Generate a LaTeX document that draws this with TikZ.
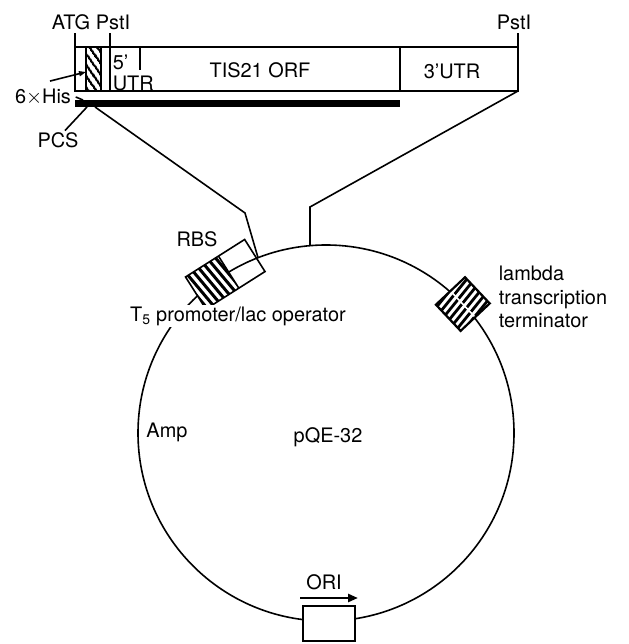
\documentclass[tikz,border=0pt]{standalone}
\usepackage{fontspec}
\setmainfont{TeX Gyre Heros}
\usetikzlibrary{arrows.meta,calc,patterns.meta}

\begin{document}
\begin{tikzpicture}[x=1bp,y=1bp,line width=1.6bp,
  every node/.style={font=\fontsize{20}{24}\selectfont,inner sep=1bp},
  hatchtop/.style={pattern={Lines[angle=-55,distance=6bp,line width=2.6bp]}},
  stripe/.style={line width=3bp},
  tip/.style={-{Triangle[length=7bp,width=5bp]}}]
\useasboundingbox (0,0) rectangle (629,644);

% insert
\draw (75,553) rectangle (518,597);
\fill[white] (86,553) rectangle (101,597);
\fill[hatchtop] (86,553) rectangle (101,597);
\draw (86,553) rectangle (101,597);
\draw (110,553) -- (110,611);
\draw (75,597) -- (75,611);
\draw (518,597) -- (518,611);
\draw (140,597) -- (140,574);
\draw (400,553) -- (400,597);
\fill (75,537) rectangle (400,544);

\node (atg) at (71,622) {ATG};
\node (pstA) at (113,622) {PstI};
\node (pstB) at (514,622) {PstI};
\node[anchor=west,align=left,font=\fontsize{20}{21}\selectfont] (utr5) at (111,571) {5'\\UTR};
\node (orf) at (260,574) {TIS21 ORF};
\node (utr3) at (452,573) {3'UTR};
\node (his) at (43,547) {6$\times$His};
\node (pcs) at (58,504) {PCS};

\coordinate (hisArr) at ([shift={(7,6)}]his.north);
\coordinate (hisTip) at (86,572);
\draw[tip] (hisArr) -- (hisTip);
\coordinate (hisEnd) at (83,544);
\draw ([xshift=3]his.east) -- (hisEnd);
\coordinate (pcsTip) at (87,537);
\draw ([xshift=7]pcs.north) -- (pcsTip);

% plasmid
\coordinate (cen) at (326,211);
\draw (cen) circle[radius=188];

\coordinate (barL) at (95,537);
\coordinate (kinkL) at (245,431);
\draw (barL) -- (kinkL) -- ($(cen)+(111.2:188)$);
\coordinate (boxR) at (518,553);
\coordinate (kinkR) at (310,437);
\draw (boxR) -- (kinkR) -- ($(cen)+(94.9:188)$);

% promoter / RBS
\begin{scope}[shift={($(cen)+(122.4:188)$)},rotate=32.4]
  \fill[white] (-35,-19) rectangle (4,19);
  \begin{scope}
    \clip (-35,-19) rectangle (4,19);
    \foreach \s in {-45,-38.5,...,6}
      \draw[stripe] (\s,19) -- ++(5,-38);
  \end{scope}
  \draw (-35,-19) rectangle (35,19);
  \draw (4,-19) -- (4,19);
\end{scope}

% terminator
\begin{scope}[shift={($(cen)+(43.3:188)$)},rotate=-46.7]
  \fill[white] (-18,-20) rectangle (18,20);
  \begin{scope}
    \clip (-18,-20) rectangle (18,20);
    \foreach \s in {-16,-10,...,26}
      \draw[stripe,line width=2.8bp] (\s,-20) -- ++(-5.4,40);
  \end{scope}
  \draw[white,line width=1.6bp] (-18,0) -- (18,0);
  \draw[line width=2.2bp] (-18,-20) rectangle (18,20);
\end{scope}

\node[fill=white,inner sep=2bp] (tfive) at (238,328) {T\textsubscript{5} promoter/lac operator};
\node (rbs) at (197,405) {RBS};
\node[anchor=west,align=left,font=\fontsize{20}{23.5}\selectfont] (lam) at (497,347) {lambda\\transcription\\terminator};
\node (amp) at (167,212) {Amp};
\node (pqe) at (328,207) {pQE-32};

% origin
\node (ori) at (324,62) {ORI};
\coordinate (oriA) at (300,46);
\coordinate (oriB) at (358,46);
\draw[line width=2.6bp,-{Triangle[length=10bp,width=8bp]}] (oriA) -- (oriB);
\node[draw,fill=white,minimum width=52bp,minimum height=35bp] (oribox) at (329,20.5) {};
\end{tikzpicture}
\end{document}
